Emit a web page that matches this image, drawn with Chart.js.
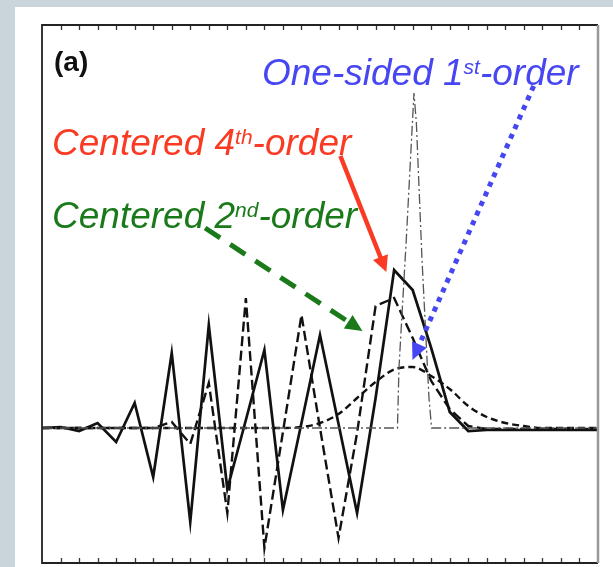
<!DOCTYPE html>
<html><head><meta charset="utf-8">
<script src="https://cdn.jsdelivr.net/npm/chart.js@4.4.1/dist/chart.umd.min.js"></script>
<style>
html,body{margin:0;padding:0;width:613px;height:567px;overflow:hidden;background:#c9d4db;}
#panel{position:absolute;left:15px;top:7px;width:598px;height:560px;background:#fff;}
#c{position:absolute;left:0;top:0;}
.lbl{position:absolute;white-space:nowrap;font-family:"Liberation Sans",Arial,sans-serif;font-style:italic;font-size:37px;line-height:37px;}
.lbl sup{font-size:21px;line-height:0;vertical-align:11px;}
#tag{position:absolute;left:54px;top:48px;font-family:"Liberation Sans",Arial,sans-serif;font-weight:bold;font-size:28px;line-height:28px;color:#111;}
</style></head><body>
<div id="panel"></div>
<canvas id="c" width="613" height="567"></canvas>
<div id="tag">(a)</div>
<div class="lbl" style="left:262px;top:54px;color:#4646f2;">One-sided 1<sup>st</sup>-order</div>
<div class="lbl" style="left:52px;top:124px;color:#fa3a22;">Centered 4<sup>th</sup>-order</div>
<div class="lbl" style="left:52px;top:197px;color:#1a7a1a;">Centered 2<sup>nd</sup>-order</div>
<script>
// grid positions (sample index)
const steps = [-1,0,1,2,3,4,5,6,7,8,9,10,11,12,13,14,15,16,17,18,19,20,21,22,23,24,25,26,27,28,29];
// Centered 4th-order (solid)
const centered4th = [0.00,0.01,-0.03,0.05,-0.14,0.25,-0.49,0.75,-0.94,1.03,-0.61,0.08,0.78,-0.82,0.05,0.93,0.04,-0.85,0.30,1.58,1.38,0.80,0.16,-0.03,-0.02,-0.02,-0.02,-0.02,-0.02,-0.02,-0.02];
// Centered 2nd-order (long dashes)
const centered2nd = [0,0,0,0,0,0,0,0.06,-0.16,0.45,-0.85,1.30,-1.20,-0.04,1.13,0.00,-1.10,-0.05,1.22,1.30,0.90,0.47,0.19,0.02,-0.01,-0.01,-0.01,-0.01,-0.01,-0.01,-0.01];
// One-sided 1st-order (short dashes, smooth)
const oneSided1st = [0,0,0,0,0,0,0,0,0,0,0,0,0,0,0.01,0.05,0.14,0.30,0.46,0.585,0.61,0.52,0.39,0.22,0.11,0.05,0.02,0,0,0,0];
// Exact pulse (dash-dot)
const exactX = [-1,18.18,18.26,18.66,19.07,19.2,19.5,19.88,20.02,29];
const exactY = [0,0,0.6,1.9,3.35,3.05,1.7,0.3,0,0];
// tick positions
const tickPositions = [0,1,2,3,4,5,6,7,8,9,10,11,12,13,14,15,16,17,18,19,20,21,22,23,24,25,26,27,28];

// annotation arrows (data coordinates)
const arrows = [
  {from:[15.1,2.72], to:[17.58,1.56], color:'#fa3a22', width:4.5, dash:[], head:16, hw:8},
  {from:[7.8,2.0], to:[16.29,0.97], color:'#1a7a1a', width:5, dash:[18,12], head:17, hw:8},
  {from:[25.53,3.42], to:[18.99,0.68], color:'#4646f2', width:5, dash:[5,5.5], head:17, hw:8}
];

const pts = (xs, ys) => xs.map((x,i)=>({x:x, y:ys[i]}));

const framePlugin = {
  id:'frame',
  afterDatasetsDraw(chart){
    const {ctx, chartArea:a, scales:{x,y}} = chart;
    ctx.save();
    // ticks
    ctx.strokeStyle='#333'; ctx.lineWidth=1.3;
    tickPositions.forEach(t=>{
      const px = Math.round(x.getPixelForValue(t))+0.5;
      ctx.beginPath(); ctx.moveTo(px,a.bottom); ctx.lineTo(px,a.bottom-5); ctx.stroke();
      ctx.beginPath(); ctx.moveTo(px,a.top); ctx.lineTo(px,a.top+5); ctx.stroke();
    });
    // frame
    ctx.strokeStyle='#222'; ctx.lineWidth=1.8;
    ctx.beginPath(); ctx.moveTo(a.right,a.top); ctx.lineTo(a.left,a.top); ctx.lineTo(a.left,a.bottom); ctx.lineTo(a.right,a.bottom); ctx.stroke();
    ctx.strokeStyle='#999'; ctx.lineWidth=2.5;
    ctx.beginPath(); ctx.moveTo(a.right,a.top); ctx.lineTo(a.right,a.bottom); ctx.stroke();
    // arrows
    arrows.forEach(ar=>{
      const x0=x.getPixelForValue(ar.from[0]), y0=y.getPixelForValue(ar.from[1]);
      const x1=x.getPixelForValue(ar.to[0]), y1=y.getPixelForValue(ar.to[1]);
      const ang=Math.atan2(y1-y0,x1-x0);
      const bx=x1-ar.head*Math.cos(ang), by=y1-ar.head*Math.sin(ang);
      ctx.strokeStyle=ar.color; ctx.fillStyle=ar.color; ctx.lineWidth=ar.width;
      ctx.setLineDash(ar.dash); ctx.lineCap='butt';
      ctx.beginPath(); ctx.moveTo(x0,y0); ctx.lineTo(bx+2*Math.cos(ang),by+2*Math.sin(ang)); ctx.stroke();
      ctx.setLineDash([]);
      ctx.beginPath();
      ctx.moveTo(x1,y1);
      ctx.lineTo(bx+ar.hw*Math.sin(ang), by-ar.hw*Math.cos(ang));
      ctx.lineTo(bx-ar.hw*Math.sin(ang), by+ar.hw*Math.cos(ang));
      ctx.closePath(); ctx.fill();
    });
    ctx.restore();
  }
};

new Chart(document.getElementById('c'), {
  type:'line',
  data:{datasets:[
    {label:'Exact', data:pts(exactX,exactY), borderColor:'#555', borderWidth:1.3, borderDash:[10,3,2,3], pointRadius:0, tension:0},
    {label:'One-sided 1st-order', data:pts(steps,oneSided1st), borderColor:'#111', borderWidth:2.4, borderDash:[7,4], pointRadius:0, cubicInterpolationMode:'monotone'},
    {label:'Centered 2nd-order', data:pts(steps,centered2nd), borderColor:'#111', borderWidth:2.4, borderDash:[10,4.5], pointRadius:0, tension:0},
    {label:'Centered 4th-order', data:pts(steps,centered4th), borderColor:'#111', borderWidth:2.7, pointRadius:0, tension:0}
  ]},
  options:{
    responsive:false, animation:false, devicePixelRatio:1,
    layout:{padding:{left:42,right:15,top:25,bottom:4}},
    plugins:{legend:{display:false}, tooltip:{enabled:false}},
    scales:{
      x:{type:'linear', min:-1, max:29, display:false},
      y:{type:'linear', min:-1.35, max:4.03, display:false}
    }
  },
  plugins:[framePlugin]
});
</script>
</body></html>
